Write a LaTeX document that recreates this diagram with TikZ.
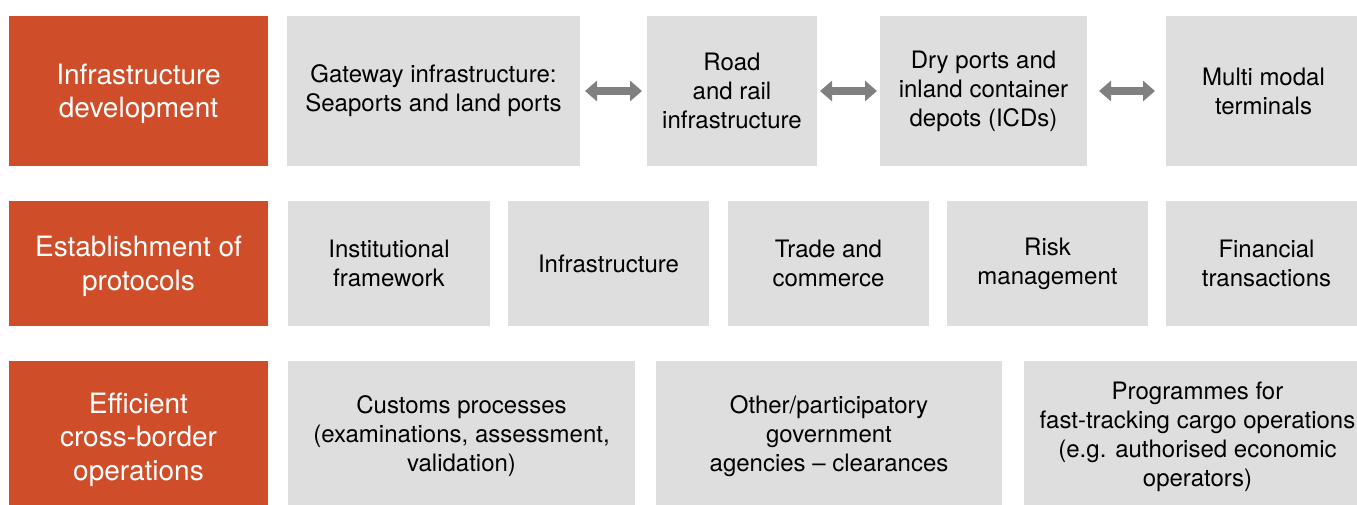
\documentclass[tikz,border=0pt]{standalone}
\usepackage{fontspec}
\setmainfont{TeX Gyre Heros}
\definecolor{hdorange}{RGB}{207,78,41}
\definecolor{cellgray}{RGB}{222,222,222}
\definecolor{linkgray}{RGB}{128,128,128}
\usetikzlibrary{positioning, arrows.meta}

\begin{document}
\begin{tikzpicture}[
                    every node/.style = {text=black, inner sep=3pt, outer sep=0pt, align=center},
                    head/.style = {fill=hdorange, text=white, text depth=0pt, minimum width=259pt, font=\fontsize{28}{33.5}\selectfont},
                    cell/.style = {fill=cellgray, font=\fontsize{24}{29}\selectfont},
                    row1/.style = {minimum height=150pt},
                    row2/.style = {minimum height=125pt},
                    row3/.style = {minimum height=151pt},
                    link/.style = {draw=linkgray, line width=8pt,
                                   {Triangle[width=20pt,length=12pt]}-{Triangle[width=20pt,length=12pt]}}]
                \useasboundingbox (0,0) rectangle (1357pt,-505pt);
                % first row: hubs joined by two-way links
                \node (infra) [head, row1] at (138.5pt,-91pt) {Infrastructure\\development};
                \node (gate)  [cell, row1, minimum width=293pt, right = 19pt of infra] {Gateway infrastructure:\\Seaports and land ports};
                \node (road)  [cell, row1, minimum width=170pt, right = 67pt of gate]  {Road\\and rail\\infrastructure};
                \node (dry)   [cell, row1, minimum width=207pt, right = 63pt of road]  {Dry ports and\\inland container\\depots (ICDs)};
                \node (multi) [cell, row1, minimum width=195pt, right = 79pt of dry]   {Multi modal\\terminals};
                \draw [link, shorten <=5pt, shorten >=5pt]   (gate) -- (road);
                \draw [link, shorten <=3pt, shorten >=3pt]   (road) -- (dry);
                \draw [link, shorten <=12pt, shorten >=11pt] (dry)  -- (multi);
                % second row
                \node (proto) [head, row2, below = 35pt of infra] {Establishment of\\protocols};
                \node (inst)  [cell, row2, minimum width=202pt, right = 20pt of proto] {Institutional\\framework};
                \node (infr)  [cell, row2, minimum width=201pt, right = 18pt of inst]  {Infrastructure};
                \node (trade) [cell, row2, minimum width=201pt, right = 19pt of infr]  {Trade and\\commerce};
                \node (risk)  [cell, row2, minimum width=201pt, right = 18pt of trade] {Risk\\management};
                \node (fin)   [cell, row2, minimum width=201pt, right = 18pt of risk]  {Financial\\transactions};
                % third row
                \node (eff)   [head, row3, below = 35pt of proto] {Efficient\\cross-border\\operations};
                \node (cust)  [cell, row3, minimum width=347pt, right = 20pt of eff]   {Customs processes\\(examinations, assessment,\\validation)};
                \node (other) [cell, row3, minimum width=346pt, right = 21pt of cust]  {Other/participatory\\government\\agencies -- clearances};
                \node (prog)  [cell, row3, minimum width=347pt, right = 22pt of other] {Programmes for\\fast-tracking cargo operations\\(e.g. authorised economic\\operators)};
            \end{tikzpicture}
\end{document}
